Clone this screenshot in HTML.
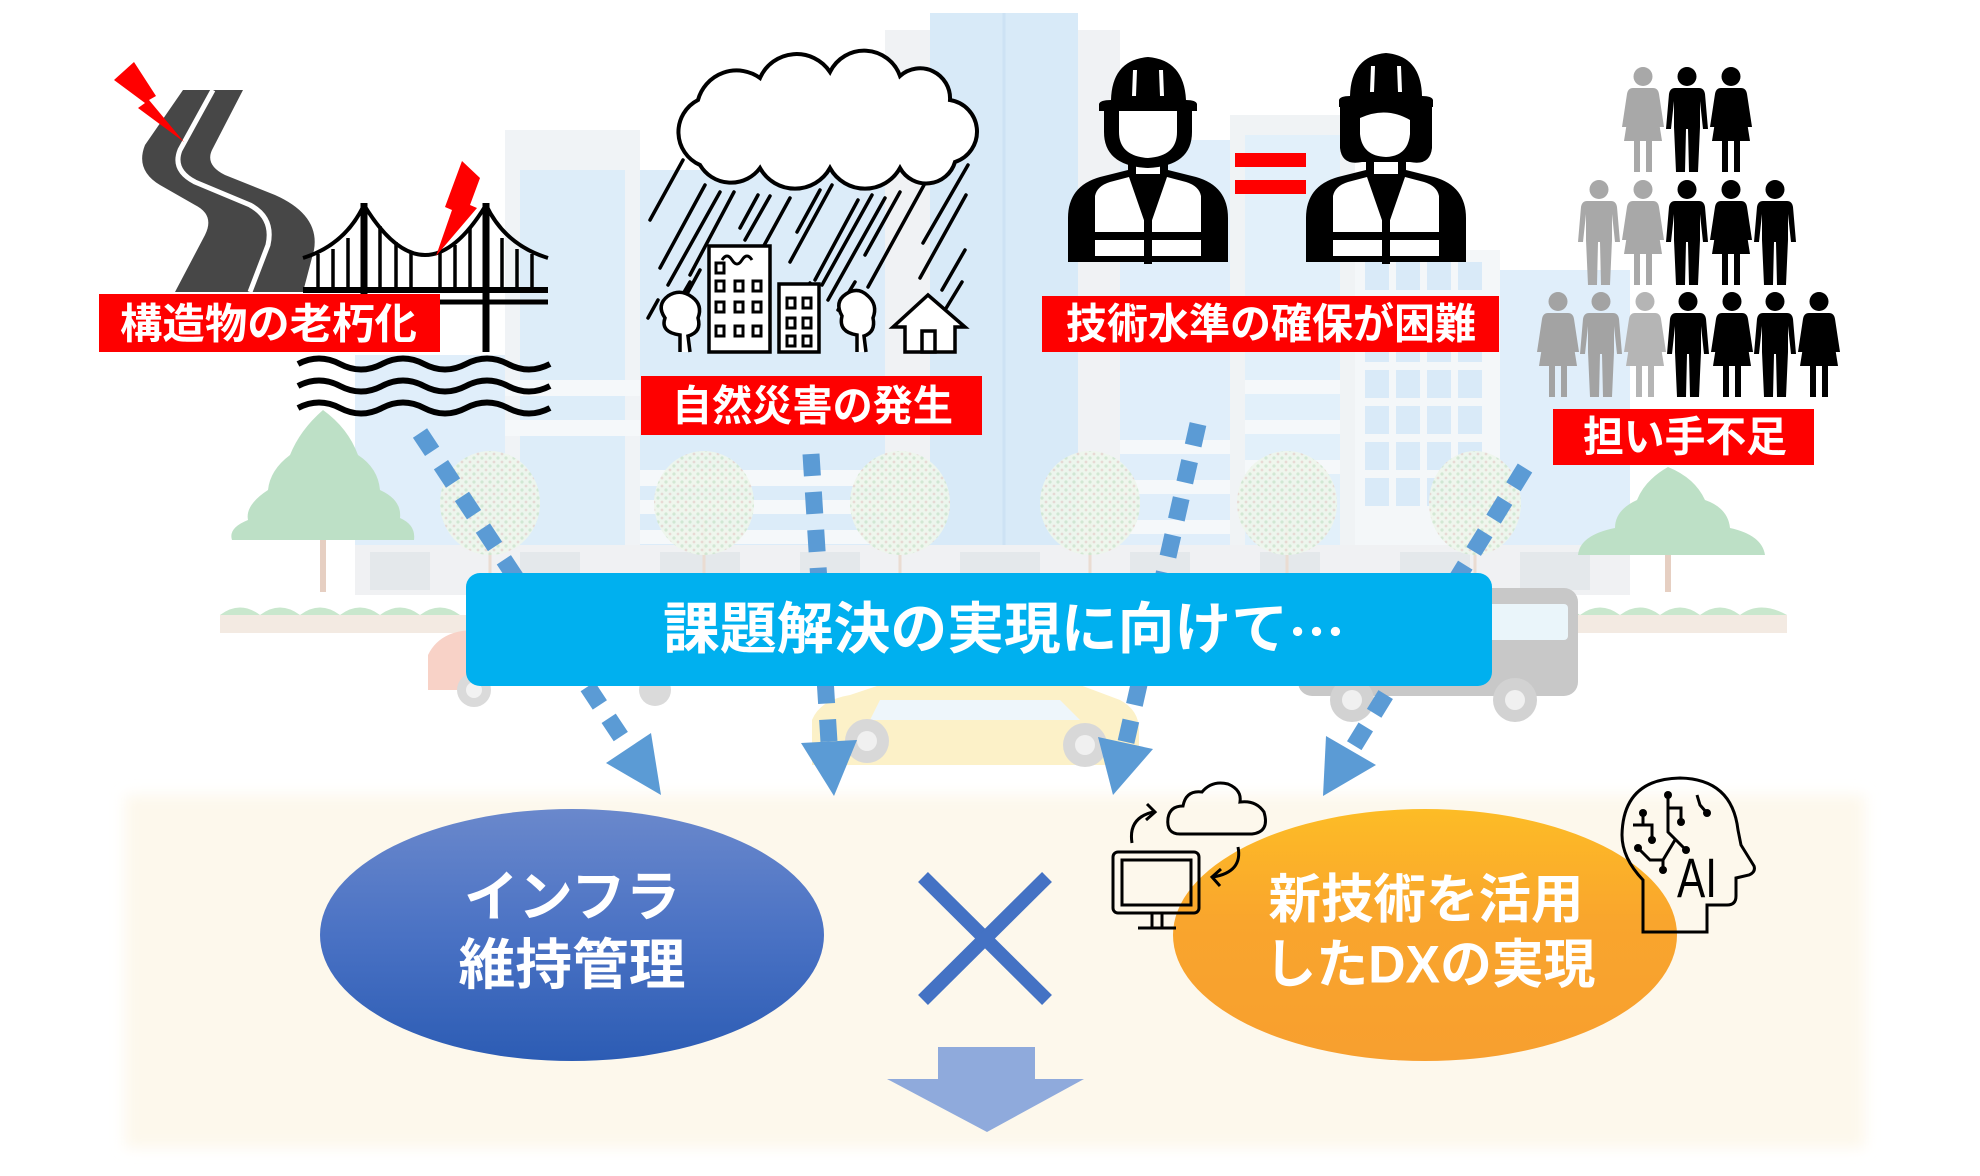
<!DOCTYPE html>
<html><head><meta charset="utf-8">
<style>
html,body{margin:0;padding:0;background:#fff;}
svg{display:block;}
text{font-family:"Liberation Sans","Noto Sans CJK JP",sans-serif;}
</style></head>
<body>
<svg width="1980" height="1176" viewBox="0 0 1980 1176" xmlns="http://www.w3.org/2000/svg">
<defs>
 <linearGradient id="gb" x1="0" y1="0" x2="0" y2="1"><stop offset="0" stop-color="#6a88cc"/><stop offset="0.5" stop-color="#4a72c4"/><stop offset="1" stop-color="#2c5cb4"/></linearGradient>
 <linearGradient id="go" x1="0" y1="0" x2="0" y2="1"><stop offset="0" stop-color="#fdbc26"/><stop offset="0.45" stop-color="#f9a52d"/><stop offset="1" stop-color="#f79f2f"/></linearGradient>
 <filter id="blur" x="-5%" y="-10%" width="110%" height="120%"><feGaussianBlur stdDeviation="7"/></filter>
 <pattern id="dots" width="8" height="8" patternUnits="userSpaceOnUse"><rect width="8" height="8" fill="#eef6ec"/><circle cx="2" cy="2" r="1.6" fill="#cfe6cf"/><circle cx="6" cy="6" r="1.4" fill="#e6d6d0"/></pattern>
 <g id="man"><circle cx="22" cy="9.5" r="9.5"/><path d="M10 21 H34 Q39 21 40 27 L43 62 H38 L35 34 V60 L33 105 H24 L23 62 H21 L20 105 H11 L9 60 V34 L6 62 H1 L4 27 Q5 21 10 21 Z"/></g>
 <g id="woman"><circle cx="22" cy="9.5" r="9.5"/><path d="M12 21 H32 Q37 21 38 27 L43 60 H38 L35 36 L41 74 H31 V105 H25 V74 H19 V105 H13 V74 H3 L9 36 L6 60 H1 L6 27 Q7 21 12 21 Z"/></g>
</defs>

<!-- ===== Background city ===== -->
<g>
 <rect x="355" y="355" width="150" height="240" fill="#e0eefa"/>
 <rect x="505" y="130" width="135" height="465" fill="#f0f3f6"/>
 <rect x="520" y="170" width="105" height="425" fill="#ddedf9"/>
 <rect x="640" y="170" width="245" height="425" fill="#dcecf9"/>
 <rect x="885" y="30" width="235" height="565" fill="#f0f2f4"/>
 <rect x="930" y="13" width="148" height="582" fill="#d8eaf8"/>
 <line x1="1004" y1="13" x2="1004" y2="595" stroke="#cde2f4" stroke-width="3"/>
 <rect x="1120" y="140" width="110" height="455" fill="#e0eefa"/>
 <rect x="1230" y="115" width="125" height="480" fill="#f0f3f5"/>
 <rect x="1245" y="135" width="95" height="440" fill="#e2f0fa"/>
 <rect x="1355" y="250" width="145" height="345" fill="#f4f7f9"/>
 <g fill="#d9eaf8">
  <rect x="1365" y="262" width="24" height="28"/><rect x="1396" y="262" width="24" height="28"/><rect x="1427" y="262" width="24" height="28"/><rect x="1458" y="262" width="24" height="28"/>
  <rect x="1365" y="298" width="24" height="28"/><rect x="1396" y="298" width="24" height="28"/><rect x="1427" y="298" width="24" height="28"/><rect x="1458" y="298" width="24" height="28"/>
  <rect x="1365" y="334" width="24" height="28"/><rect x="1396" y="334" width="24" height="28"/><rect x="1427" y="334" width="24" height="28"/><rect x="1458" y="334" width="24" height="28"/>
  <rect x="1365" y="370" width="24" height="28"/><rect x="1396" y="370" width="24" height="28"/><rect x="1427" y="370" width="24" height="28"/><rect x="1458" y="370" width="24" height="28"/>
  <rect x="1365" y="406" width="24" height="28"/><rect x="1396" y="406" width="24" height="28"/><rect x="1427" y="406" width="24" height="28"/><rect x="1458" y="406" width="24" height="28"/>
  <rect x="1365" y="442" width="24" height="28"/><rect x="1396" y="442" width="24" height="28"/><rect x="1427" y="442" width="24" height="28"/><rect x="1458" y="442" width="24" height="28"/>
  <rect x="1365" y="478" width="24" height="28"/><rect x="1396" y="478" width="24" height="28"/><rect x="1427" y="478" width="24" height="28"/><rect x="1458" y="478" width="24" height="28"/>
 </g>
 <rect x="1500" y="270" width="130" height="325" fill="#e0eefa"/>
 <g fill="#f5f8fa">
  <rect x="640" y="470" width="245" height="16"/><rect x="640" y="500" width="245" height="14"/><rect x="640" y="530" width="245" height="14"/>
  <rect x="1120" y="440" width="110" height="14"/><rect x="1120" y="480" width="110" height="14"/><rect x="1120" y="520" width="110" height="14"/>
  <rect x="505" y="380" width="135" height="16"/><rect x="505" y="420" width="135" height="16"/>
  <rect x="1245" y="380" width="95" height="14"/><rect x="1245" y="420" width="95" height="14"/><rect x="1245" y="460" width="95" height="14"/>
 </g>
 <rect x="355" y="545" width="1275" height="50" fill="#f0f1f3"/>
 <g fill="#e4e8eb">
  <rect x="370" y="552" width="60" height="38"/><rect x="520" y="552" width="60" height="38"/><rect x="660" y="552" width="80" height="38"/><rect x="800" y="552" width="60" height="38"/><rect x="960" y="552" width="80" height="38"/><rect x="1130" y="552" width="60" height="38"/><rect x="1260" y="552" width="60" height="38"/><rect x="1400" y="552" width="70" height="38"/><rect x="1520" y="552" width="70" height="38"/>
 </g>
 <!-- round trees -->
 <g stroke="#eadcd2" stroke-width="3">
  <line x1="490" y1="520" x2="490" y2="590"/><line x1="704" y1="520" x2="704" y2="590"/><line x1="900" y1="520" x2="900" y2="590"/><line x1="1090" y1="520" x2="1090" y2="590"/><line x1="1287" y1="520" x2="1287" y2="590"/><line x1="1475" y1="520" x2="1475" y2="590"/>
 </g>
 <g fill="url(#dots)" opacity="0.9">
  <ellipse cx="490" cy="503" rx="50" ry="52"/><ellipse cx="704" cy="503" rx="50" ry="52"/><ellipse cx="900" cy="503" rx="50" ry="52"/><ellipse cx="1090" cy="503" rx="50" ry="52"/><ellipse cx="1287" cy="503" rx="50" ry="52"/><ellipse cx="1475" cy="503" rx="46" ry="52"/>
 </g>
 <!-- conical trees -->
 <line x1="323" y1="520" x2="323" y2="592" stroke="#e6cfc2" stroke-width="6"/>
 <path d="M323 410 Q300 430 290 455 Q270 470 268 490 Q245 505 248 520 Q228 528 232 540 L414 540 Q416 525 400 518 Q402 500 380 490 Q378 468 358 455 Q348 428 323 410 Z" fill="#bde0c6"/>
 <line x1="1668" y1="540" x2="1668" y2="592" stroke="#e6cfc2" stroke-width="6"/>
 <path d="M1668 467 Q1645 480 1637 500 Q1615 510 1615 528 Q1580 535 1578 555 L1765 555 Q1762 535 1730 528 Q1728 508 1705 500 Q1695 478 1668 467 Z" fill="#bde0c6"/>
 <!-- ground strip -->
 <rect x="220" y="615" width="1567" height="18" fill="#f3eae2"/>
 <path d="M220 615 Q240 600 260 615 Q280 600 300 615 Q320 600 340 615 Q360 600 380 615 Q400 600 420 615 Q440 600 460 615 L460 615 H1500 Q1520 600 1540 615 Q1560 600 1580 615 Q1600 600 1620 615 Q1640 600 1660 615 Q1680 600 1700 615 Q1720 600 1740 615 Q1760 600 1787 615 Z" fill="#c9e7cd"/>
 <!-- cars -->
 <path d="M428 690 L428 655 Q440 630 475 630 L475 690 Z" fill="#f8d2c7"/>
 <circle cx="474" cy="690" r="17" fill="#dadada"/><circle cx="474" cy="690" r="8" fill="#f2f2f2"/>
 <circle cx="655" cy="690" r="16" fill="#dadada"/>
 <path d="M812 765 L812 720 Q820 700 850 695 L880 685 H1080 L1120 700 Q1139 710 1139 730 V765 Z" fill="#fcf1c8"/>
 <path d="M880 700 H1060 L1080 720 H870 Z" fill="#eef6fb"/>
 <circle cx="867" cy="741" r="22" fill="#d8d8d8"/><circle cx="867" cy="741" r="10" fill="#f0f0f0"/>
 <circle cx="1085" cy="745" r="22" fill="#d8d8d8"/><circle cx="1085" cy="745" r="10" fill="#f0f0f0"/>
 <rect x="1298" y="588" width="280" height="108" rx="14" fill="#c8c8c8"/>
 <rect x="1300" y="604" width="268" height="36" rx="4" fill="#eaf5fa"/>
 <circle cx="1352" cy="700" r="22" fill="#d2d2d2"/><circle cx="1352" cy="700" r="10" fill="#f0f0f0"/>
 <circle cx="1515" cy="700" r="22" fill="#d2d2d2"/><circle cx="1515" cy="700" r="10" fill="#f0f0f0"/>
</g>

<!-- cream area -->
<rect x="125" y="795" width="1740" height="353" fill="#fdf8ec" filter="url(#blur)"/>

<!-- ===== Icon 1: road + bridge ===== -->
<path d="M183 90 L243 90 L212 150 Q205 165 225 175 L275 195 Q320 215 314 250 L303 292 L175 292 L205 235 Q215 215 195 205 L160 185 Q135 170 145 145 Z" fill="#474747"/>
<path d="M213 90 L180 150 Q172 170 195 182 L250 205 Q274 218 268 245 L250 292" fill="none" stroke="#fff" stroke-width="5"/>
<polygon points="114,80 134,62 156,96 149,100 184,142 138,108 145,103" fill="#ff0000"/>
<g fill="none" stroke="#000" stroke-linecap="butt">
 <path d="M303 258 Q345 245 364 205" stroke-width="4"/>
 <path d="M364 205 Q425 305 486 205" stroke-width="4"/>
 <path d="M486 205 Q505 245 548 258" stroke-width="4"/>
 <g stroke-width="3.5">
  <line x1="318" y1="254" x2="318" y2="289"/><line x1="333" y1="249" x2="333" y2="289"/><line x1="348" y1="238" x2="348" y2="289"/>
  <line x1="380" y1="226" x2="380" y2="289"/><line x1="396" y1="242" x2="396" y2="289"/><line x1="411" y1="251" x2="411" y2="289"/><line x1="440" y1="253" x2="440" y2="289"/><line x1="455" y1="245" x2="455" y2="289"/><line x1="470" y1="228" x2="470" y2="289"/>
  <line x1="502" y1="238" x2="502" y2="289"/><line x1="517" y1="249" x2="517" y2="289"/><line x1="532" y1="254" x2="532" y2="289"/>
 </g>
 <line x1="303" y1="290" x2="548" y2="290" stroke-width="6"/>
 <line x1="303" y1="302" x2="548" y2="302" stroke-width="5"/>
 <line x1="364" y1="203" x2="364" y2="352" stroke-width="7"/>
 <line x1="486" y1="203" x2="486" y2="352" stroke-width="7"/>
 <g stroke-width="6">
  <path d="M298 364 q21 -11 42 0 t42 0 t42 0 t42 0 t42 0 t42 0"/>
  <path d="M298 386 q21 -11 42 0 t42 0 t42 0 t42 0 t42 0 t42 0"/>
  <path d="M298 408 q21 -11 42 0 t42 0 t42 0 t42 0 t42 0 t42 0"/>
 </g>
</g>
<polygon points="462,161 480,178 470,205 477,208 436,256 452,210 445,207" fill="#ff0000"/>

<!-- ===== Icon 2: rain ===== -->
<g stroke="#000" stroke-width="3.5" stroke-linecap="round">
 <line x1="683" y1="160" x2="650" y2="220"/><line x1="705" y1="185" x2="660" y2="268"/><line x1="720" y1="192" x2="668" y2="285"/><line x1="734" y1="192" x2="690" y2="275"/>
 <line x1="700" y1="270" x2="688" y2="292"/><line x1="758" y1="195" x2="740" y2="228"/><line x1="770" y1="196" x2="745" y2="240"/><line x1="790" y1="198" x2="755" y2="262"/>
 <line x1="820" y1="190" x2="797" y2="232"/><line x1="832" y1="185" x2="790" y2="262"/><line x1="858" y1="200" x2="815" y2="280"/><line x1="872" y1="195" x2="822" y2="285"/>
 <line x1="885" y1="198" x2="828" y2="300"/><line x1="900" y1="192" x2="865" y2="255"/><line x1="935" y1="165" x2="868" y2="287"/><line x1="968" y1="165" x2="923" y2="243"/>
 <line x1="966" y1="195" x2="920" y2="278"/><line x1="965" y1="250" x2="942" y2="290"/><line x1="962" y1="282" x2="945" y2="310"/><line x1="855" y1="282" x2="838" y2="310"/>
 <line x1="810" y1="283" x2="785" y2="330"/><line x1="658" y1="300" x2="648" y2="318"/><line x1="690" y1="282" x2="676" y2="306"/>
</g>
<path d="M700 165 A36 36 0 0 1 698 100 A40 40 0 0 1 760 78 A40 40 0 0 1 830 72 A38 38 0 0 1 900 76 A30 30 0 0 1 950 100 A32 32 0 0 1 955 162 A30 30 0 0 1 900 168 A40 40 0 0 1 830 168 A40 40 0 0 1 760 168 A36 36 0 0 1 700 165 Z" fill="#fff" stroke="#000" stroke-width="4"/>
<g fill="#fff" stroke="#000" stroke-width="3.5">
 <rect x="709" y="246" width="61" height="106"/>
 <rect x="779" y="284" width="40" height="68"/>
 <path d="M680 352 L680 335 Q660 332 665 318 Q656 305 668 296 Q680 288 692 297 Q703 305 698 318 Q702 332 688 336 L690 352"/>
 <path d="M857 352 L857 335 Q838 332 842 316 Q834 302 846 294 Q858 286 868 296 Q878 305 873 318 Q876 332 864 336 L866 352"/>
 <path d="M893 327 L928 295 L965 327 L955 327 L955 352 L905 352 L905 327 Z"/>
 <rect x="922" y="331" width="13" height="21"/>
</g>
<path d="M722 260 q5 -8 10 0 t10 0 t10 0" fill="none" stroke="#000" stroke-width="3"/>
<g fill="#fff" stroke="#000" stroke-width="3">
 <rect x="716" y="263" width="8" height="10"/>
 <rect x="716" y="281" width="8" height="10"/><rect x="735" y="281" width="8" height="10"/><rect x="753" y="281" width="8" height="10"/>
 <rect x="716" y="302" width="8" height="10"/><rect x="735" y="302" width="8" height="10"/><rect x="753" y="302" width="8" height="10"/>
 <rect x="716" y="326" width="8" height="10"/><rect x="735" y="326" width="8" height="10"/><rect x="753" y="326" width="8" height="10"/>
 <rect x="787" y="298" width="8" height="10"/><rect x="803" y="298" width="8" height="10"/>
 <rect x="787" y="318" width="8" height="10"/><rect x="803" y="318" width="8" height="10"/>
 <rect x="787" y="336" width="8" height="10"/><rect x="803" y="336" width="8" height="10"/>
</g>

<!-- ===== Icon 3: workers ===== -->
<g fill="#000">
 <path d="M1099 111 V104 Q1100 100 1111 100 Q1112 60 1148 57 Q1184 60 1186 100 Q1196 100 1197 104 V111 Z"/>
 <path d="M1068 262 V218 Q1068 186 1100 177 L1128 170 H1168 L1196 177 Q1228 186 1228 218 V262 Z"/>
 <rect x="1128" y="158" width="40" height="20"/>
</g>
<g fill="#fff">
 <path d="M1133 70 L1137 70 L1136 96 L1132 96 Z"/><path d="M1159 70 L1163 70 L1164 96 L1160 96 Z"/>
 <path d="M1095 256 V196 Q1097 186 1110 182 L1129 177 L1146 226 V256 Z"/>
 <path d="M1201 256 V196 Q1199 186 1186 182 L1167 177 L1150 226 V256 Z"/>
 <rect x="1136" y="162" width="24" height="12"/>
</g>
<g fill="#000">
 <rect x="1093" y="232" width="110" height="8"/>
 <rect x="1144" y="220" width="8" height="44"/>
 <path d="M1104 110 V132 Q1104 166 1148 168 Q1192 166 1192 132 V110 Z"/>
</g>
<path d="M1119 111 V132 Q1119 156 1148 158 Q1177 156 1177 132 V111 Z" fill="#fff"/>
<!-- worker 2 -->
<g transform="translate(238,-4)">
 <g fill="#000">
  <path d="M1101 111 V104 Q1102 100 1112 100 Q1113 60 1148 57 Q1183 60 1184 100 Q1194 100 1195 104 V111 Z"/>
  <path d="M1068 266 V222 Q1068 190 1100 181 L1128 174 H1168 L1196 181 Q1228 190 1228 222 V266 Z"/>
  <rect x="1128" y="160" width="40" height="20"/>
 </g>
 <g fill="#fff">
  <path d="M1133 70 L1137 70 L1136 96 L1132 96 Z"/><path d="M1159 70 L1163 70 L1164 96 L1160 96 Z"/>
  <path d="M1095 260 V200 Q1097 190 1110 186 L1129 181 L1146 230 V260 Z"/>
  <path d="M1201 260 V200 Q1199 190 1186 186 L1167 181 L1150 230 V260 Z"/>
  <rect x="1136" y="166" width="24" height="12"/>
 </g>
 <g fill="#000">
  <rect x="1093" y="236" width="110" height="8"/>
  <rect x="1144" y="224" width="8" height="44"/>
  <path d="M1102 110 V152 Q1104 170 1124 166 H1172 Q1192 170 1194 152 V110 Z"/>
 </g>
 <path d="M1122 122 Q1148 110 1172 124 V138 Q1170 160 1148 161 Q1124 160 1122 138 Z" fill="#fff"/>
</g>
<rect x="1235" y="153" width="71" height="14" fill="#ff0000"/>
<rect x="1235" y="180" width="71" height="14" fill="#ff0000"/>

<!-- ===== Icon 4: people ===== -->
<use href="#woman" x="1621" y="67" fill="#a8a8a8"/>
<use href="#man" x="1665" y="67" fill="#000"/>
<use href="#woman" x="1709" y="67" fill="#000"/>
<use href="#man" x="1577" y="180" fill="#a8a8a8"/>
<use href="#woman" x="1621" y="180" fill="#a8a8a8"/>
<use href="#man" x="1665" y="180" fill="#000"/>
<use href="#woman" x="1709" y="180" fill="#000"/>
<use href="#man" x="1753" y="180" fill="#000"/>
<use href="#woman" x="1536" y="292" fill="#a3a3a3"/>
<use href="#man" x="1579" y="292" fill="#a3a3a3"/>
<use href="#woman" x="1623" y="292" fill="#b5b5b5"/>
<use href="#man" x="1666" y="292" fill="#000"/>
<use href="#woman" x="1710" y="292" fill="#000"/>
<use href="#man" x="1753" y="292" fill="#000"/>
<use href="#woman" x="1797" y="292" fill="#000"/>

<!-- ===== Red labels ===== -->
<g font-weight="bold" fill="#fff" font-size="42" dominant-baseline="central">
 <rect x="99" y="294" width="341" height="58" fill="#fe0000"/>
 <text x="120" y="324" textLength="297" lengthAdjust="spacingAndGlyphs">構造物の老朽化</text>
 <rect x="641" y="376" width="341" height="59" fill="#fe0000"/>
 <text x="672" y="406" textLength="281" lengthAdjust="spacingAndGlyphs">自然災害の発生</text>
 <rect x="1042" y="296" width="457" height="56" fill="#fe0000"/>
 <text x="1066" y="324" textLength="410" lengthAdjust="spacingAndGlyphs">技術水準の確保が困難</text>
 <rect x="1553" y="409" width="261" height="56" fill="#fe0000"/>
 <text x="1583" y="437" textLength="204" lengthAdjust="spacingAndGlyphs">担い手不足</text>
</g>

<!-- ===== Dashed connectors ===== -->
<g stroke="#5b9bd5" stroke-width="17" stroke-dasharray="22 16" fill="none">
 <line x1="420" y1="433" x2="629" y2="749"/>
 <line x1="811" y1="454" x2="829" y2="742"/>
 <line x1="1198" y1="424" x2="1126" y2="742"/>
 <line x1="1525" y1="468" x2="1351" y2="751"/>
</g>
<g fill="#5b9bd5">
 <polygon points="606,763 651,733 661,795"/>
 <polygon points="801,743 857,740 834,796"/>
 <polygon points="1098,737 1153,749 1113,795"/>
 <polygon points="1326,736 1376,765 1323,796"/>
</g>

<!-- ===== Banner ===== -->
<rect x="466" y="573" width="1026" height="113" rx="14" fill="#00b0ef"/>
<text x="663" y="629" font-size="56" font-weight="bold" fill="#fff" dominant-baseline="central" textLength="682" lengthAdjust="spacingAndGlyphs">課題解決の実現に向けて<tspan font-family="'Noto Sans CJK JP',sans-serif">…</tspan></text>

<!-- ===== Bottom ===== -->
<ellipse cx="572" cy="935" rx="252" ry="126" fill="url(#gb)"/>
<g font-size="55" font-weight="bold" fill="#fff" dominant-baseline="central" text-anchor="middle">
 <text x="572" y="897" textLength="216" lengthAdjust="spacingAndGlyphs">インフラ</text>
 <text x="572" y="965" textLength="227" lengthAdjust="spacingAndGlyphs">維持管理</text>
</g>
<g stroke="#4472c4" stroke-width="14">
 <line x1="923" y1="877" x2="1047" y2="1000"/>
 <line x1="1047" y1="877" x2="923" y2="1000"/>
</g>
<polygon points="938,1047 1035,1047 1035,1079 1084,1079 987,1132 887,1079 938,1079" fill="#8faadc"/>

<ellipse cx="1425" cy="935" rx="252" ry="126" fill="url(#go)"/>
<g font-size="53" font-weight="bold" fill="#fff" dominant-baseline="central" text-anchor="middle">
 <text x="1426" y="900" textLength="315" lengthAdjust="spacingAndGlyphs">新技術を活用</text>
 <text x="1430" y="965" textLength="331" lengthAdjust="spacingAndGlyphs">したDXの実現</text>
</g>

<!-- cloud/monitor icon -->
<g fill="none" stroke="#000" stroke-width="3">
 <path d="M1180 834 Q1166 834 1168 818 Q1170 806 1183 806 Q1186 790 1202 792 Q1212 780 1228 784 Q1242 790 1240 802 Q1256 800 1264 812 Q1270 832 1252 834 Z"/>
 <rect x="1113" y="852" width="86" height="61" rx="5"/>
 <rect x="1122" y="860" width="69" height="45"/>
 <line x1="1152" y1="913" x2="1152" y2="927"/><line x1="1162" y1="913" x2="1162" y2="927"/>
 <line x1="1138" y1="928" x2="1176" y2="928"/>
 <path d="M1132 843 Q1128 818 1153 812"/>
 <path d="M1147 804 L1155 812 L1146 820"/>
 <path d="M1238 847 Q1243 872 1213 877"/>
 <path d="M1221 869 L1212 877 L1220 886"/>
</g>

<!-- AI head -->
<g fill="none" stroke="#000" stroke-width="3">
 <path d="M1643 932 V880 Q1622 858 1622 835 Q1623 779 1680 778 Q1732 779 1738 830 L1741 845 L1754 866 Q1756 872 1749 875 L1736 878 V896 Q1736 905 1727 905 H1707 V932 Z"/>
 <path d="M1668 795 V832 L1686 850"/>
 <path d="M1668 808 H1681 V822"/>
 <path d="M1633 825 H1652 V840"/>
 <path d="M1643 813 V825"/>
 <path d="M1638 848 L1650 860 H1663 V870"/>
 <path d="M1675 840 L1663 860"/>
 <path d="M1697 795 L1700 805 L1707 813"/>
</g>
<g fill="#000">
 <circle cx="1668" cy="795" r="4"/><circle cx="1643" cy="813" r="4"/><circle cx="1652" cy="840" r="4"/><circle cx="1681" cy="822" r="4"/>
 <circle cx="1638" cy="848" r="4"/><circle cx="1686" cy="850" r="4"/><circle cx="1663" cy="870" r="4"/><circle cx="1707" cy="813" r="4"/>
</g>
<text x="1677" y="897" font-size="56" fill="#000" textLength="40" lengthAdjust="spacingAndGlyphs">AI</text>
</svg>
</body></html>
